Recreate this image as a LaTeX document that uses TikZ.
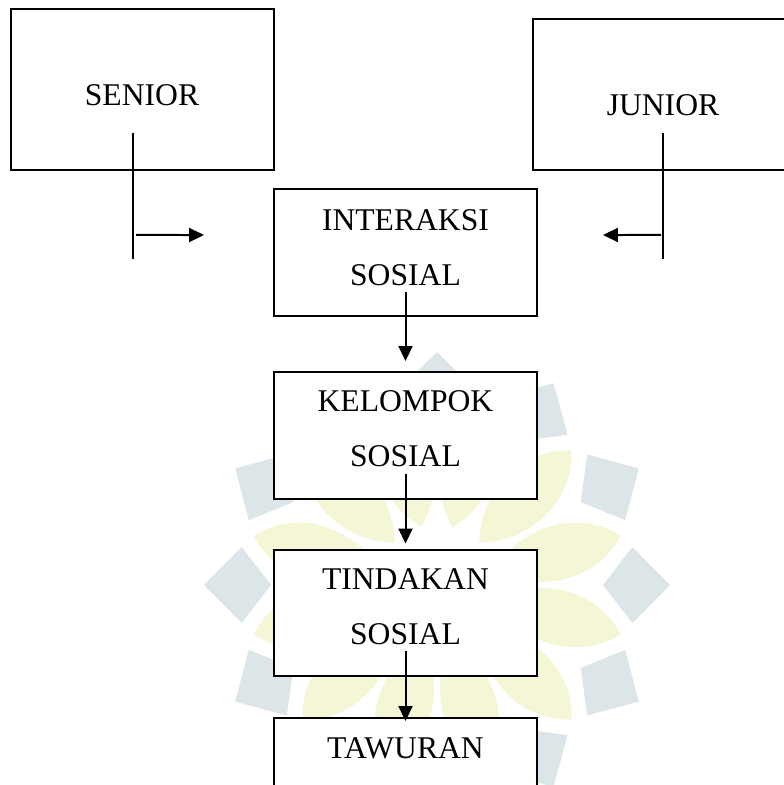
\documentclass[tikz,border=0pt]{standalone}
\usepackage{fontspec}
\setmainfont{Liberation Serif}
\usetikzlibrary{calc,arrows.meta}
\definecolor{markblue}{RGB}{220,229,232}
\definecolor{markyellow}{RGB}{244,246,214}
\tikzset{
  flowbox/.style={
    draw=black,
    fill=white,
    line width=0.04cm,
    minimum width=5.26cm,
    minimum height=2.54cm,
    inner sep=0pt,
    outer sep=0pt
  },
  flowtext/.style={font=\fontsize{18}{31.3}\selectfont, align=center, inner sep=0pt},
  flowline/.style={line width=0.04cm},
  flowarrow/.style={flowline, -{Triangle[length=0.3cm,width=0.28cm]}}
}

\begin{document}
\begin{tikzpicture}[x=0.02cm, y=-0.02cm]
  \useasboundingbox (0,0) rectangle (784,785);
  % Watermark
  \begin{scope}[shift={(437,585)}]
    \foreach \a in {0,30,...,330} {
      \fill[markblue] (\a:233) -- (\a+11:199) -- (\a:166) -- (\a-11:199) -- cycle;
      \fill[markyellow] (\a+15:60) .. controls (\a+35:100) and (\a+29:160) .. (\a+15:190)
        .. controls (\a+1:160) and (\a-5:100) .. cycle;
    }
  \end{scope}
  % Boxes
  \node[flowbox, minimum height=3.22cm] (senior) at (142.5,89.5) {};
  \node[flowbox, minimum height=3.02cm] (junior) at (664.5,94.5) {};
  \node[flowbox] (interaksi) at (405.5,252.5) {};
  \node[flowbox] (kelompok) at (405.5,435.5) {};
  \node[flowbox] (tindakan) at (405.5,613) {};
  \node[flowbox] (tawuran) at (405.5,781.5) {};
  % Texts
  \node[flowtext] (senior-text) at (142,95) {SENIOR};
  \node[flowtext] (junior-text) at (663,105) {JUNIOR};
  \node[flowtext] (interaksi-text) at ($(interaksi)+(0,-5)$) {INTERAKSI\\SOSIAL};
  \node[flowtext] (kelompok-text) at ($(kelompok)+(0,-6.5)$) {KELOMPOK\\SOSIAL};
  \node[flowtext] (tindakan-text) at ($(tindakan)+(0,-6.5)$) {TINDAKAN\\SOSIAL};
  \node[flowtext] (tawuran-text) at ($(tawuran.north)+(0,30)$) {TAWURAN};
  % Senior side
  \coordinate (senior-top) at ($(senior.south)+(-9.5,-37)$);
  \coordinate (senior-end) at ($(senior.south)+(-9.5,89)$);
  \draw[flowline] (senior-top) -- (senior-end);
  \draw[flowarrow] ($(senior-top)+(3,102)$) -- ($(interaksi.west)+(-70,-17.5)$);
  % Junior side
  \coordinate (junior-top) at ($(junior.south)+(-1.5,-37)$);
  \coordinate (junior-end) at ($(junior.south)+(-1.5,89)$);
  \draw[flowline] (junior-top) -- (junior-end);
  \draw[flowarrow] ($(junior-top)+(-2,102)$) -- ($(interaksi.east)+(66,-17.5)$);
  % Down the chain
  \draw[flowarrow] ($(interaksi.south)+(0,-24)$) -- ($(kelompok.north)+(0,-11)$);
  \draw[flowarrow] ($(kelompok.south)+(0,-25)$) -- ($(tindakan.north)+(0,-6)$);
  \draw[flowarrow] ($(tindakan.south)+(0,-25)$) -- ($(tawuran.north)+(0,3)$);
\end{tikzpicture}
\end{document}
